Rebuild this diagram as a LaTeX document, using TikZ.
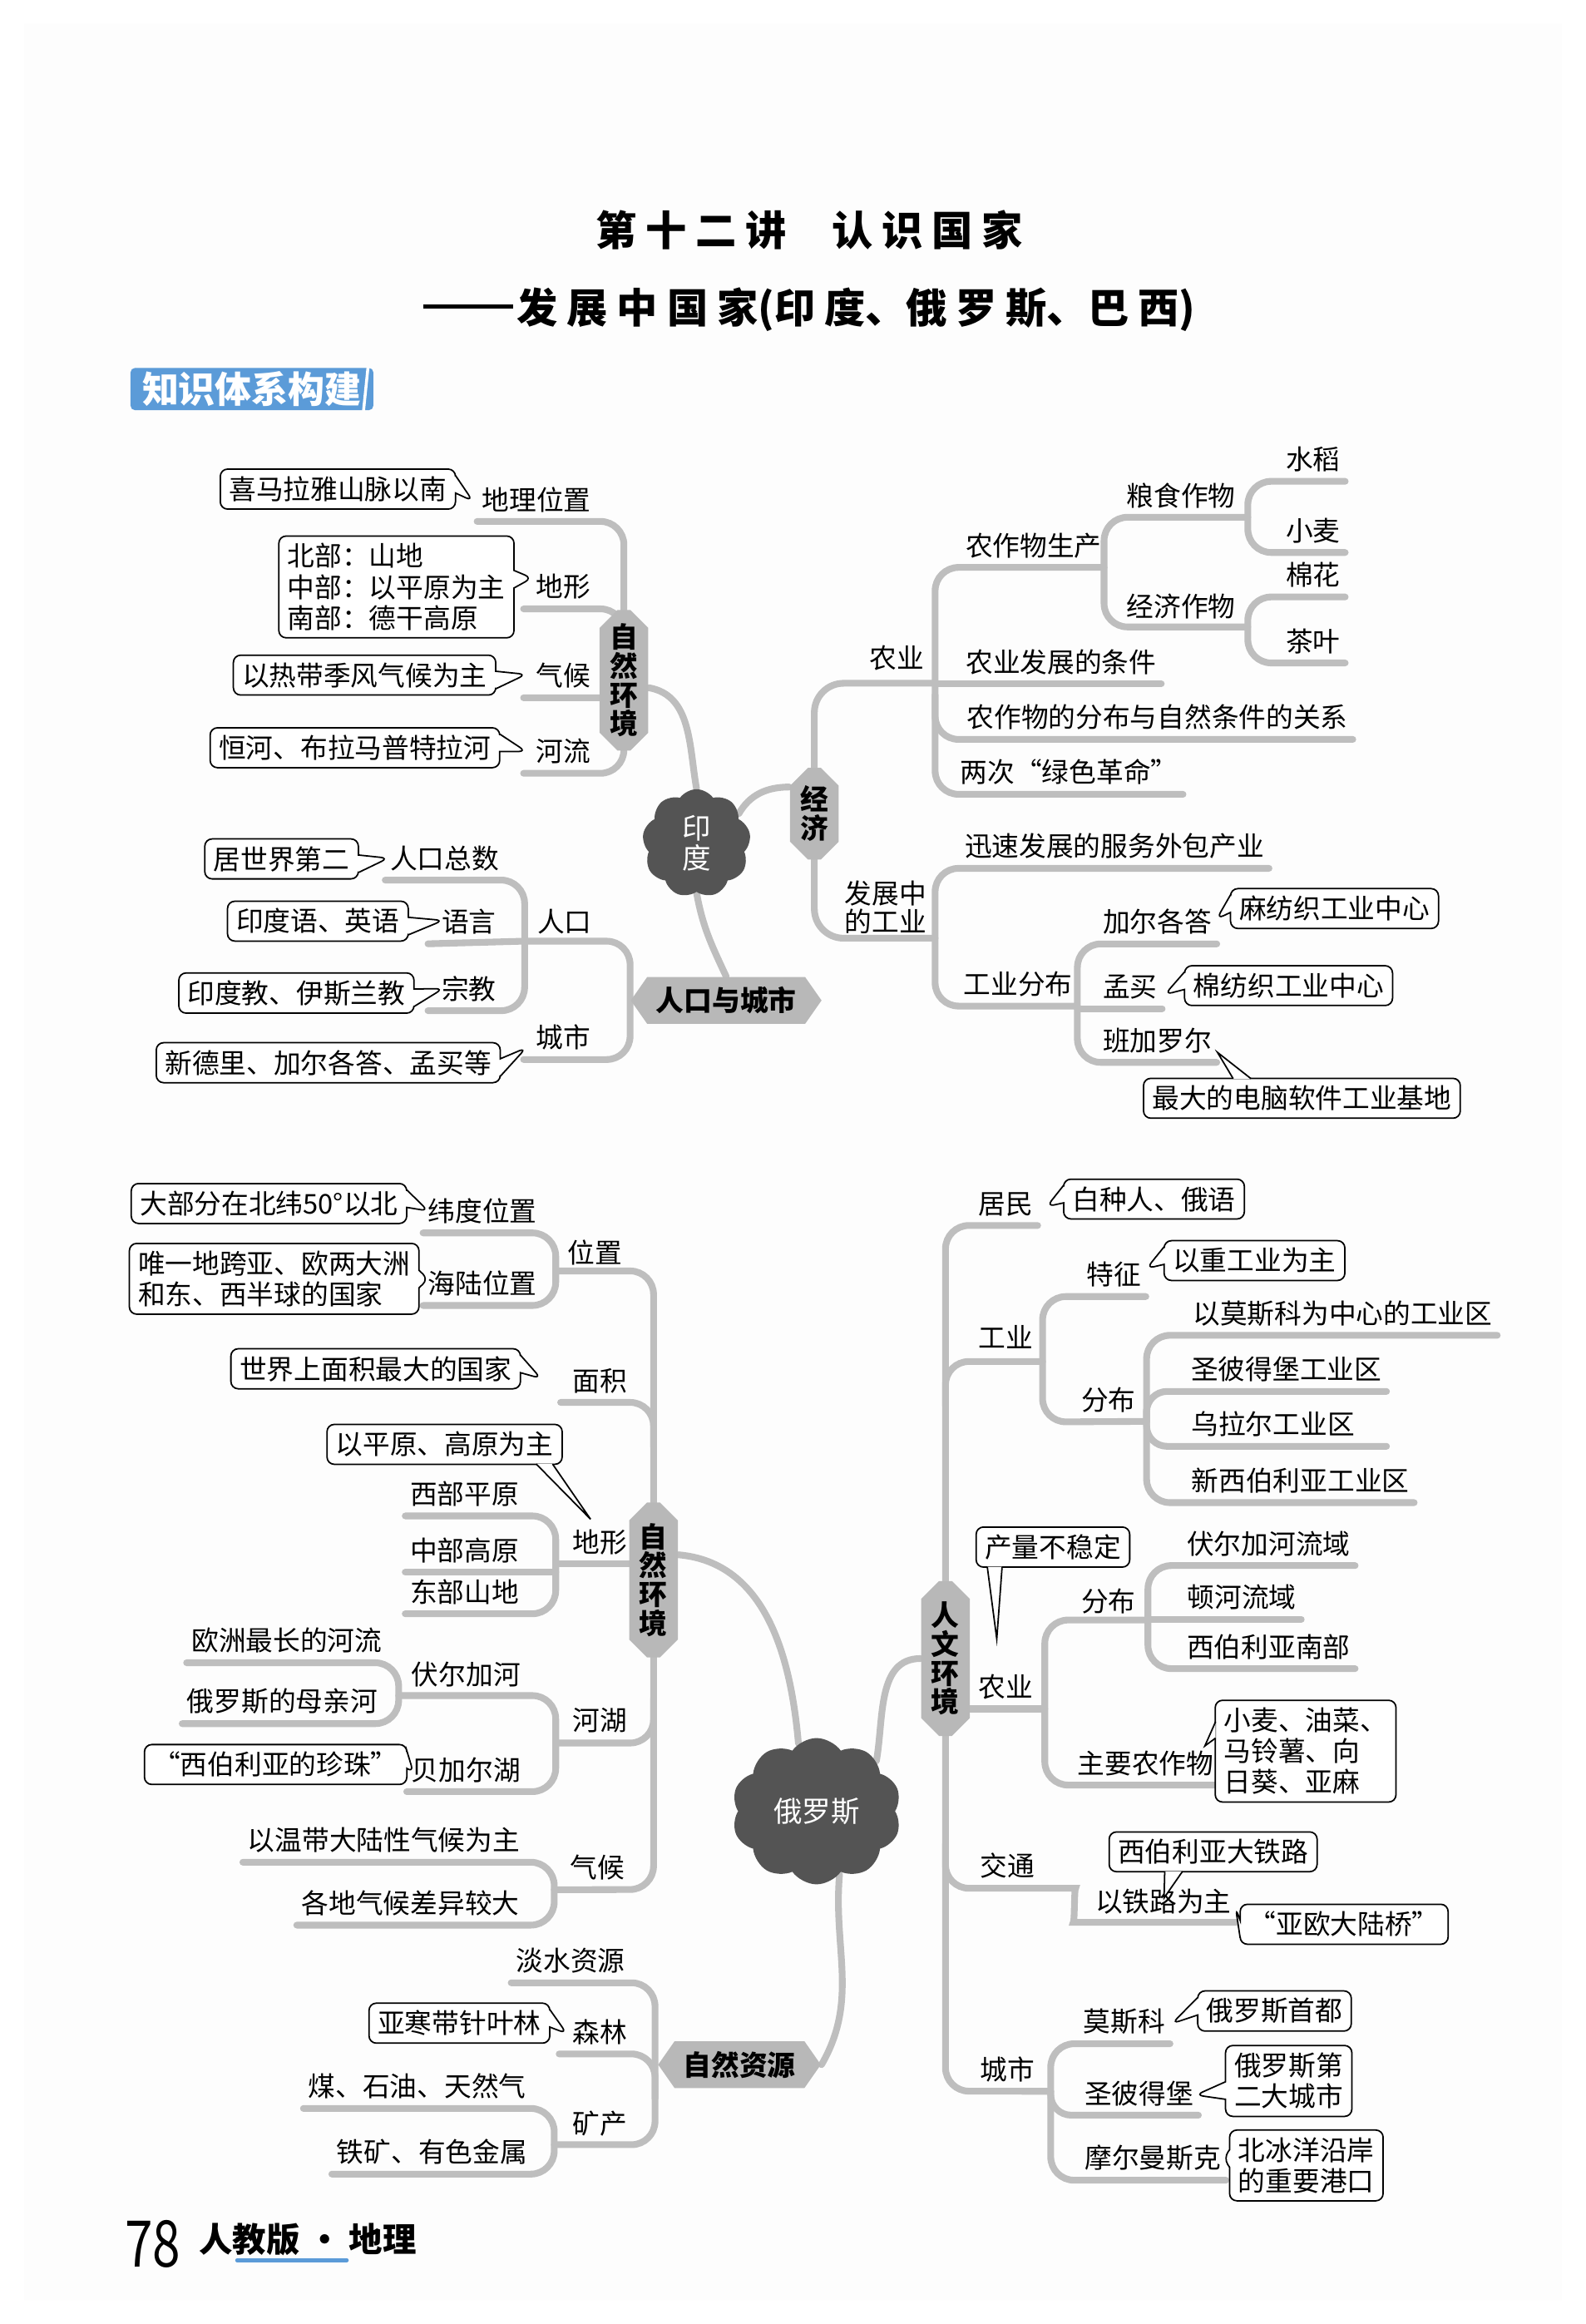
\documentclass[tikz,border=0pt]{standalone}
\usepackage{fontspec}
\setmainfont{Noto Sans CJK SC}
\newfontfamily\ttlfont{Noto Sans CJK SC}[LetterSpace=22]
\usepackage{graphicx}
\usepackage{tikz}
\usetikzlibrary{shapes.misc, shapes.symbols, shapes.callouts, backgrounds, calc}
\definecolor{mmLine}{HTML}{BEBEBE}
\definecolor{mmHex}{HTML}{B8B8B8}
\definecolor{mmCloud}{HTML}{545454}
\definecolor{mmBlue}{HTML}{5B9BD8}
\definecolor{mmPage}{HTML}{FDFDFD}
\newcommand\fs{\fontsize{9.3}{10.6}\selectfont}
\newcommand\notePtr[3]{\filldraw[fill=white, draw=black, line width=0.5pt] #1 -- #3 -- #2;}

\begin{document}
\begin{tikzpicture}[x=0.0178cm, y=-0.0178cm,
    every node/.style={font=\fs, inner xsep=1.5pt, inner ysep=3pt},
    conn/.style={draw=mmLine, line width=2.3pt, line cap=round, rounded corners=8pt},
    hexv/.style={chamfered rectangle, chamfered rectangle xsep=2.5pt, fill=mmHex, align=center,
      font=\fontsize{9.6}{9.9}\selectfont\bfseries, minimum width=15.7pt, inner xsep=1pt, inner ysep=1pt},
    hexh/.style={signal, signal to=east and west, signal pointer angle=110, fill=mmHex,
      font=\fontsize{9.6}{10}\selectfont\bfseries, minimum height=16pt, inner xsep=3pt, inner ysep=1pt},
    blob/.style={cloud, cloud puffs=9, cloud puff arc=110, fill=mmCloud, text=white, align=center, inner sep=0pt},
    note/.style={rectangle callout, draw=black, fill=white, line width=0.5pt, rounded corners=2.5pt,
      callout pointer width=6pt, inner xsep=3pt, inner ysep=2.5pt},
    notebox/.style={rectangle, draw=black, fill=white, line width=0.5pt, rounded corners=2.5pt,
      inner xsep=3pt, inner ysep=2.5pt}
  ]
  \useasboundingbox (0,0) rectangle (1070,1568);

  % titles
  \node[font=\ttlfont\fontsize{14}{16}\selectfont\bfseries] (ttl) at (546,155) {第十二讲\hspace{1.1em}认识国家};
  \node[font=\ttlfont\fontsize{14}{16}\selectfont\bfseries] (sub) at (546,209)
    {\rule[0.36em]{2.2em}{0.11em}\hspace{0.1em}发展中国家{\addfontfeature{LetterSpace=0}(}印度{\addfontfeature{LetterSpace=0}、}俄罗斯{\addfontfeature{LetterSpace=0}、}巴西{\addfontfeature{LetterSpace=0})}};
  \node[fill=mmBlue, text=white, font=\fontsize{12.5}{13}\selectfont\bfseries, inner xsep=4pt, inner ysep=1.2pt,
        rounded corners=1.5pt] (tag) at (170,262.5) {知识体系构建};
  \draw[white, line width=1pt] ($(tag.north east)+(-4,0)$) -- ($(tag.south east)+(-7,0)$);

  % India
  \node[blob, minimum width=37pt, minimum height=37pt, font=\fontsize{9.8}{10.4}\selectfont] (inCloud) at (470,569) {印\\度};
  \node[hexv, minimum height=48pt] (inNat) at (421,459) {自\\然\\环\\境};
  \node[hexv, minimum height=31.4pt] (inEco) at (549.5,549) {经\\济};
  \node[hexh, minimum width=62pt] (inPop) at (490,675) {人口与城市};

  \node (iDlwz) at (362,337) {地理位置};
  \node (iDx) at (380,396) {地形};
  \node (iQh) at (380,456) {气候};
  \node (iHl) at (380,507) {河流};
  \node[note, callout absolute pointer={(319,338)}] (cXmly) at (228,330) {喜马拉雅山脉以南};
  \node[note, align=left, callout absolute pointer={(359,390)}] (cDxfb) at (267.5,396) {北部：山地\\中部：以平原为主\\南部：德干高原};
  \node[note, callout absolute pointer={(355,455)}] (cRdjf) at (246,455.5) {以热带季风气候为主};
  \node[note, callout absolute pointer={(355,507)}] (cHh) at (239.5,504.5) {恒河、布拉马普特拉河};

  \node (iRkzs) at (300,579) {人口总数};
  \node (iYy) at (316.5,622) {语言};
  \node (iZj) at (316.5,667) {宗教};
  \node (iRk) at (381,622) {人口};
  \node (iCs) at (380,700) {城市};
  \node[note, callout absolute pointer={(262,579)}] (cJsj) at (190,579.5) {居世界第二};
  \node[note, callout absolute pointer={(299,621)}] (cYdy) at (214.5,621.5) {印度语、英语};
  \node[note, callout absolute pointer={(299,667)}] (cYdj) at (200,670) {印度教、伊斯兰教};
  \node[note, callout absolute pointer={(355,707)}] (cXdl) at (221.5,717) {新德里、加尔各答、孟买等};

  \node (iNy) at (605,444) {农业};
  \node (iNzwsc) at (697.5,368) {农作物生产};
  \node (iLszw) at (797,334.6) {粮食作物};
  \node (iJjzw) at (797,409) {经济作物};
  \node (iSd) at (886,310) {水稻};
  \node (iXm) at (886,358) {小麦};
  \node (iMh) at (886,388) {棉花};
  \node (iCy) at (886,432.5) {茶叶};
  \node (iTj) at (716,446.5) {农业发展的条件};
  \node (iFb) at (781,484) {农作物的分布与自然条件的关系};
  \node (iLc) at (721.5,521) {两次“绿色革命”};
  \node[align=center, font=\fontsize{9.3}{9.6}\selectfont] (iFzgy) at (597.5,612) {发展中\\的工业};
  \node (iXs) at (752,571) {迅速发展的服务外包产业};
  \node (iGyfb) at (687,664) {工业分布};
  \node (iJegd) at (781,622) {加尔各答};
  \node (iMm) at (762.5,666) {孟买};
  \node (iBjle) at (781,702) {班加罗尔};
  \node[note, callout absolute pointer={(821,620)}] (cMfz) at (900.5,613) {麻纺织工业中心};
  \node[note, callout absolute pointer={(786,671)}] (cMfz2) at (869.5,665) {棉纺织工业中心};
  \node[notebox] (cDnrj) at (878.5,741) {最大的电脑软件工业基地};
  \notePtr{($(cDnrj.north west)+(61,0.7)$)}{($(cDnrj.north west)+(73,0.7)$)}{(821.5,710)}

  \coordinate (iRkJ) at (354,635);
  \coordinate (iNyJ) at (631,461);
  \coordinate (iGyJ) at (631,633);
  \coordinate (iNzJ) at (745,381);
  \coordinate (iLsJ) at (842,349);
  \coordinate (iJjJ) at (842,423);
  \coordinate (iGyfbJ) at (727,680);

  % Russia
  \node[blob, cloud puffs=10, minimum width=58pt, minimum height=50pt, font=\fontsize{9.8}{10.4}\selectfont] (ruCloud) at (551,1222) {俄罗斯};
  \node[hexv, minimum height=53pt] (ruNat) at (441,1066) {自\\然\\环\\境};
  \node[hexv, minimum height=53pt] (ruHum) at (638,1119) {人\\文\\环\\境};
  \node[hexh, minimum width=50pt] (ruRes) at (499,1393) {自然资源};

  \node (rWdwz) at (325.5,817) {纬度位置};
  \node (rHlwz) at (325.5,866) {海陆位置};
  \node (rWz) at (401.5,845) {位置};
  \node (rMj) at (405,931.5) {面积};
  \node (rDx) at (405,1040.5) {地形};
  \node (rXbpy) at (313.5,1008) {西部平原};
  \node (rZbgy) at (313.5,1046) {中部高原};
  \node (rDbsd) at (313.5,1074) {东部山地};
  \node (rHh) at (405,1160.5) {河湖};
  \node (rFejh) at (314.5,1130) {伏尔加河};
  \node (rOz) at (193.5,1107) {欧洲最长的河流};
  \node (rMqh) at (190.5,1148) {俄罗斯的母亲河};
  \node (rBjeh) at (314.5,1194) {贝加尔湖};
  \node (rQh) at (403,1260) {气候};
  \node (rWd) at (259,1241.6) {以温带大陆性气候为主};
  \node (rGd) at (277,1284) {各地气候差异较大};
  \node[note, callout absolute pointer={(289,817)}] (cDbf) at (181.5,812) {大部分在北纬50°以北};
  \node[note, align=left, callout absolute pointer={(289,863)}] (cWy) at (185,862.8) {唯一地跨亚、欧两大洲\\和东、西半球的国家};
  \node[note, callout absolute pointer={(365,930)}] (cSjmj) at (253.5,923.5) {世界上面积最大的国家};
  \node[notebox] (cYpy) at (300,974.5) {以平原、高原为主};
  \notePtr{($(cYpy.south east)+(-18,-0.7)$)}{($(cYpy.south east)+(-7,-0.7)$)}{(398.5,1025)}
  \node[note, callout absolute pointer={(279,1196)}] (cXbl) at (186,1190.5) {“西伯利亚的珍珠”};

  \node (rDs) at (385,1323) {淡水资源};
  \node (rSl) at (405,1371) {森林};
  \node (rKc) at (405,1433) {矿产};
  \node (rMsy) at (281.5,1407.7) {煤、石油、天然气};
  \node (rTk) at (291.5,1452) {铁矿、有色金属};
  \node[note, callout absolute pointer={(382.4,1372)}] (cYhd) at (310,1365) {亚寒带针叶林};

  \node (rJm) at (678.5,812.5) {居民};
  \node (rGy) at (678.5,902) {工业};
  \node (rTz) at (751.5,860) {特征};
  \node (rFb) at (748,944.6) {分布};
  \node (rMsk) at (906,886) {以莫斯科为中心的工业区};
  \node (rSbdb) at (868,924) {圣彼得堡工业区};
  \node (rWle) at (859,961) {乌拉尔工业区};
  \node (rXxb) at (877.5,999) {新西伯利亚工业区};
  \node (rNy) at (678.5,1138) {农业};
  \node (rFb2) at (748,1080.6) {分布};
  \node (rFej) at (856,1041.5) {伏尔加河流域};
  \node (rDh) at (838,1077.8) {顿河流域};
  \node (rXblnb) at (856,1111) {西伯利亚南部};
  \node (rZyn) at (773,1189.6) {主要农作物};
  \node (rJt) at (680,1258.8) {交通};
  \node (rYtl) at (785,1283) {以铁路为主};
  \node (rCs) at (680,1396) {城市};
  \node (rMsk2) at (758.6,1364) {莫斯科};
  \node (rSbd) at (768.6,1412.3) {圣彼得堡};
  \node (rMems) at (778,1456) {摩尔曼斯克};
  \node[note, callout absolute pointer={(706.4,814)}] (cBzr) at (778.7,809) {白种人、俄语};
  \node[note, callout absolute pointer={(773.7,855.8)}] (cZgy) at (846.5,850.5) {以重工业为主};
  \node[notebox] (cClb) at (710.5,1043.8) {产量不稳定};
  \notePtr{($(cClb.south west)+(8,-0.7)$)}{($(cClb.south west)+(18,-0.7)$)}{(672.6,1105.8)}
  \node[notebox, align=left] (cXmyc) at (881,1181.5) {小麦、油菜、\\马铃薯、向\\日葵、亚麻};
  \notePtr{($(cXmyc.north west)+(0.7,15)$)}{($(cXmyc.north west)+(0.7,26)$)}{(813,1178)}
  \node[notebox] (cXbly) at (818.6,1249.4) {西伯利亚大铁路};
  \notePtr{($(cXbly.south west)+(38,-0.7)$)}{($(cXbly.south west)+(50,-0.7)$)}{(785.5,1280.5)}
  \node[note, callout absolute pointer={(833.8,1287.4)}] (cYodl) at (907,1298.3) {“亚欧大陆桥”};
  \node[note, callout absolute pointer={(790.8,1365.3)}] (cSd) at (860,1356.8) {俄罗斯首都};
  \node[note, align=left, callout absolute pointer={(806.9,1413.5)}] (cDe) at (869.6,1404) {俄罗斯第\\二大城市};
  \node[note, align=left, callout absolute pointer={(825.7,1456)}] (cBby) at (881.5,1461) {北冰洋沿岸\\的重要港口};

  \coordinate (rWzJ) at (375,857.5);
  \coordinate (rQhJ) at (374,1275);
  \coordinate (rDxJ) at (375,1055);
  \coordinate (rHhJ) at (375,1176);
  \coordinate (rFejJ) at (269,1144);
  \coordinate (rZyT) at (442,1392);
  \coordinate (rKcJ) at (374,1447);
  \coordinate (rGyJ) at (703.5,918.6);
  \coordinate (rFbJ) at (773.7,959);
  \coordinate (rNyJ) at (705,1153);
  \coordinate (rFb2J) at (774.6,1093);
  \coordinate (rJtJ) at (710,1274);
  \coordinate (rYtlJ) at (740,1297);
  \coordinate (rCsJ) at (709,1411);

  % footer
  \node[font=\fontsize{22}{24}\selectfont, inner sep=0pt] (pgNo) at (103,1514) {\scalebox{0.78}[1]{78}};
  \node[font=\fontsize{11.5}{12}\selectfont\bfseries, anchor=west, inner sep=0pt] (book) at (134,1511) {人教版 · 地理};
  \draw[mmBlue, line width=1.3pt, line cap=round] (160,1525) -- (234,1525);

  \begin{scope}[on background layer]
    \fill[white] (0,0) rectangle (1070,1568);
    \fill[mmPage] (16,16) rectangle (1054,1552);
    % India natural
    \draw[conn] (iDlwz.south west) -- (iDlwz.south -| inNat) -- (iHl.south -| inNat) -- ($(iHl.south west)+(-5,0)$);
    \draw[conn] ($(iDx.south west)+(-5,0)$) -- (iDx.south -| inNat) -- ++(0,30);
    \draw[conn] ($(iQh.south west)+(-5,0)$) -- (iQh.south -| inNat) -- ++(0,30);
    \draw[conn] ($(inNat.east)+(0,5)$) to[out=-10, in=100] (inCloud.north);
    % India population
    \draw[conn] (iRkzs.south west) -- (iRkzs.south -| iRkJ) -- (iZj.south -| iRkJ) -- ($(iZj.south west)+(-6,0)$);
    \draw[conn] ($(iYy.south west)+(-6,0)$) -- (iRkJ);
    \draw[conn] (iRkJ) -- (iRkJ -| inPop.west) -- (iCs.south -| inPop.west) -- ($(iCs.south west)+(-5,0)$);
    \draw[conn] (inCloud.south) to[out=-80, in=115] (inPop.north);
    % India economy
    \draw[conn] (inCloud.35) to[out=60, in=180] ($(inEco.west)+(0,-18)$);
    \draw[conn, rounded corners=10pt] (iNyJ) -- (iNyJ -| inEco) -- (iGyJ -| inEco) -- (iGyJ);
    \draw[conn] (iNzwsc.south -| iNzJ) -- (iNzwsc.south -| iNyJ) -- (iLc.south -| iNyJ) -- (iLc.south east);
    \draw[conn] (iTj.south -| iNyJ) -- (iTj.south east);
    \draw[conn] ($(iFb.south -| iNyJ)+(0,-30)$) -- (iFb.south -| iNyJ) -- (iFb.south east);
    \draw[conn] (iLsJ) -- (iLsJ -| iNzJ) -- (iJjJ -| iNzJ) -- (iJjJ);
    \draw[conn] (iSd.south east) -- (iSd.south -| iLsJ) -- (iXm.south -| iLsJ) -- (iXm.south east);
    \draw[conn] (iMh.south east) -- (iMh.south -| iJjJ) -- (iCy.south -| iJjJ) -- (iCy.south east);
    \draw[conn] (iXs.south east) -- (iXs.south -| iGyJ) -- (iGyfb.south -| iGyJ) -- (iGyfb.south -| iGyfbJ);
    \draw[conn] (iJegd.south east) -- (iJegd.south -| iGyfbJ) -- (iBjle.south -| iGyfbJ) -- (iBjle.south east);
    \draw[conn] (iMm.south -| iGyfbJ) -- (iMm.south east);
    % Russia natural
    \draw[conn] (rWdwz.south west) -- (rWdwz.south -| rWzJ) -- (rHlwz.south -| rWzJ) -- (rHlwz.south west);
    \draw[conn] (rWzJ) -- (rWzJ -| ruNat) -- (rQh.south -| ruNat) -- (rQhJ);
    \draw[conn] ($(rMj.south west)+(-5,0)$) -- (rMj.south -| ruNat) -- ++(0,30);
    \draw[conn] (rDxJ) -- (rDxJ -| ruNat);
    \draw[conn] (rXbpy.south west) -- (rXbpy.south -| rDxJ) -- (rDbsd.south -| rDxJ) -- (rDbsd.south west);
    \draw[conn] (rZbgy.south west) -- (rZbgy.south -| rDxJ);
    \draw[conn] (rHhJ) -- (rHhJ -| ruNat) -- ++(0,-30);
    \draw[conn] (rFejJ) -- (rFejJ -| rHhJ) -- (rBjeh.south -| rHhJ) -- (rBjeh.south west);
    \draw[conn] (rOz.south west) -- (rOz.south -| rFejJ) -- (rMqh.south -| rFejJ) -- (rMqh.south west);
    \draw[conn] (rWd.south west) -- (rWd.south -| rQhJ) -- (rGd.south -| rQhJ) -- (rGd.south west);
    \draw[conn] ($(ruNat.east)+(0,-17)$) to[out=-5, in=95] (ruCloud.105);
    % Russia resources
    \draw[conn] (rDs.south west) -- (rDs.south -| rZyT) -- (rKcJ -| rZyT) -- (rKcJ);
    \draw[conn] ($(rSl.south west)+(-6,0)$) -- (rSl.south -| rZyT) -- ++(0,30);
    \draw[conn] (rMsy.south west) -- (rMsy.south -| rKcJ) -- (rTk.south -| rKcJ) -- (rTk.south west);
    \draw[conn] (ruCloud.-70) to[out=-95, in=60] (ruRes.east);
    % Russia human
    \draw[conn] (ruCloud.40) to[out=80, in=180] (ruHum.west);
    \draw[conn] (rJm.south east) -- (rJm.south -| ruHum) -- (rCs.south -| ruHum) -- (rCsJ);
    \draw[conn] ($(rGyJ -| ruHum)+(0,30)$) -- (rGyJ -| ruHum) -- (rGyJ);
    \draw[conn] (rTz.south east) -- (rTz.south -| rGyJ) -- (rFb.south -| rGyJ) -- (rFbJ);
    \draw[conn] (rMsk.south east) -- (rMsk.south -| rFbJ) -- (rXxb.south -| rFbJ) -- (rXxb.south east);
    \draw[conn, rounded corners=7pt] (rFbJ) -- (rSbdb.south -| rFbJ) -- (rSbdb.south east);
    \draw[conn, rounded corners=7pt] ($(rFbJ)+(0,-8)$) -- (rWle.south -| rFbJ) -- (rWle.south -| rSbdb.south east);
    \draw[conn] (rNyJ -| ruHum) -- (rNyJ);
    \draw[conn] (rFb2J) -- (rFb2J -| rNyJ) -- (rZyn.south -| rNyJ) -- (rZyn.south east);
    \draw[conn] (rFej.south east) -- (rFej.south -| rFb2J) -- (rXblnb.south -| rFb2J) -- (rXblnb.south east);
    \draw[conn] (rDh.south -| rFb2J) -- (rDh.south east);
    \draw[conn] ($(rJtJ -| ruHum)+(0,-30)$) -- (rJtJ -| ruHum) -- (rJtJ) to[out=0, in=180] (rYtlJ) -- (rYtlJ -| rYtl.south east);
    \draw[conn] (rMsk2.south east) -- (rMsk2.south -| rCsJ) -- (rMems.south -| rCsJ) -- (rMems.south east);
    \draw[conn, rounded corners=7pt] (rCsJ) -- (rSbd.south -| rCsJ) -- (rSbd.south east);
  \end{scope}
\end{tikzpicture}
\end{document}
